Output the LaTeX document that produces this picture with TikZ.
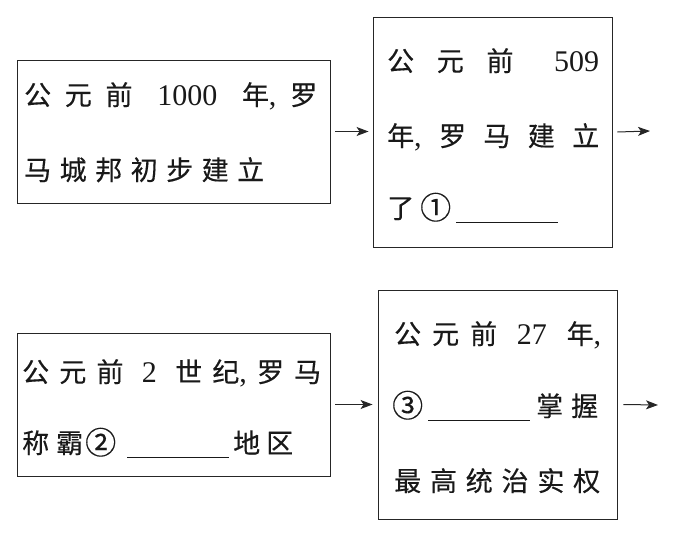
\documentclass[tikz,border=0pt]{standalone}
\usepackage{fontspec}
\newfontfamily\cjk{Noto Sans CJK SC}[FakeBold=0.35]
\newfontfamily\digitfont{Liberation Serif}
\usetikzlibrary{arrows.meta}
\newcommand\g{\hspace{0pt plus 1fill}}
\newcommand\gw{\hspace{0pt plus 1.8fill}}
\newcommand\lm[1]{{\digitfont\fontsize{30pt}{30pt}\selectfont #1}}
\newcommand\cnum[1]{{\fontsize{31pt}{31pt}\selectfont\raisebox{-1pt}{#1}}}
\newcommand\blank{\rule[-4.5pt]{102pt}{0.9pt}}
\begin{document}
\begin{tikzpicture}[x=1pt,y=-1pt,
  box/.style={draw=black!85,line width=0.9pt,minimum width=#1,inner sep=0pt},
  txt/.style={anchor=base west,inner sep=0pt,font=\cjk\fontsize{27pt}{30pt}\selectfont,text=black!90},
  arr/.style={draw=black!85,line width=1pt,-{Stealth[length=12pt,width=9pt,inset=3pt]}}]
\useasboundingbox (0,0) rectangle (683,535);
% boxes
\node[box=313pt,minimum height=143pt] (A) at (173.5,131.5) {};
\node[box=239pt,minimum height=230pt] (B) at (492.5,132) {};
\node[box=313pt,minimum height=143pt] (C) at (173.5,404.5) {};
\node[box=239pt,minimum height=229pt] (D) at (497.5,404.5) {};
% texts
\node[txt] (a1) at (24,105) {\makebox[293pt][s]{公\g 元\g 前\gw \lm{1000}\gw 年\lm{,}\g 罗}};
\node[txt] (a2) at (24,180) {\makebox[240pt][s]{马\g 城\g 邦\g 初\g 步\g 建\g 立}};
\node[txt] (b1) at (387,71) {\makebox[212pt][s]{公\g 元\g 前\gw \lm{509}}};
\node[txt] (b2) at (387,146) {\makebox[212pt][s]{年\lm{,}\g 罗\g 马\g 建\g 立}};
\node[txt] (b3) at (387,218) {了\hspace{6pt}\cnum{①}\hspace{5pt}\blank};
\node[txt] (c1) at (22,382) {\makebox[299pt][s]{公\g 元\g 前\gw \lm{2}\gw 世\g 纪\lm{,}\g 罗\g 马}};
\node[txt] (c2) at (22,453) {称\hspace{7pt}霸\hspace{2pt}\cnum{②}\hspace{11pt}\blank\hspace{4pt}地\hspace{6pt}区};
\node[txt] (d1) at (394,344) {\makebox[207pt][s]{公\g 元\g 前\gw \lm{27}\gw 年\lm{,}}};
\node[txt] (d2) at (392,416) {\cnum{③}\hspace{5pt}\blank\hspace{6pt}掌\hspace{8pt}握};
\node[txt] (d3) at (394,491) {\makebox[206pt][s]{最\g 高\g 统\g 治\g 实\g 权}};
% arrows
\coordinate (e1) at (650,131);
\coordinate (e2) at (658,405);
\draw[arr] ([xshift=5pt]A.east) -- ([xshift=-4pt]A.east -| B.west);
\draw[arr] ([xshift=5pt]B.east) -- (e1);
\draw[arr] ([xshift=5pt]C.east) -- ([xshift=-5pt]C.east -| D.west);
\draw[arr] ([xshift=6pt]D.east) -- (e2);
\end{tikzpicture}
\end{document}
